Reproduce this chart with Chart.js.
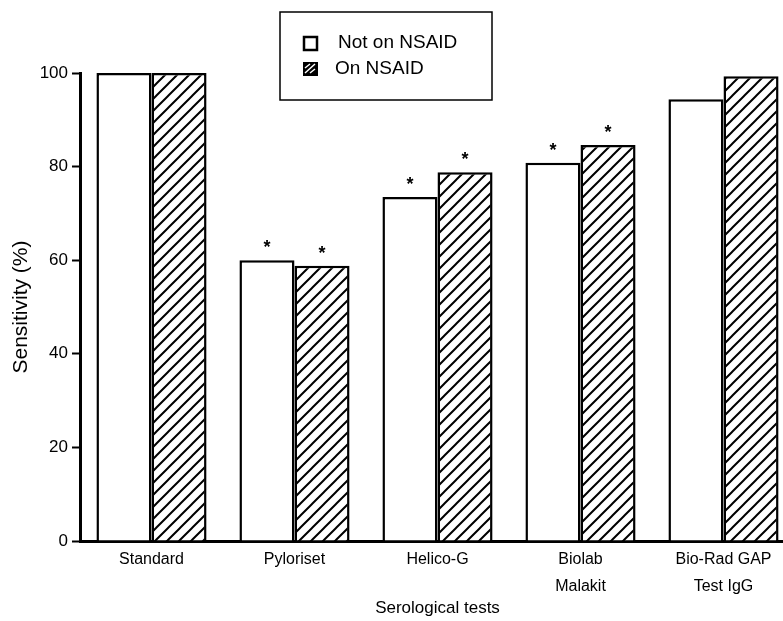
<html>
    <head>
        <title>Serological tests sensitivity</title>
        <script src="https://cdn.jsdelivr.net/npm/chart.js/dist/chart.umd.min.js"></script>
        <style>
            body { margin: 0; overflow: hidden; background: #fff; }
            #wrap { width: 795px; height: 621px; }
        </style>
    </head>
    <body>
        <div id="wrap"><canvas id="myChart" width="795" height="621"></canvas></div>
        <script>
            var tests = ["Standard", "Pyloriset", "Helico-G", ["Biolab", "Malakit"], ["Bio-Rad GAP", "Test IgG"]];
            var notOnNsaid = [100, 60, 73.5, 80.8, 94.4];
            var onNsaid = [100, 58.8, 78.8, 84.6, 99.3];
            // significance markers (*) per bar
            var starNot = [false, true, true, true, false];
            var starOn = [false, true, true, true, false];
            var yTicks = [0, 20, 40, 60, 80, 100];
            var font = "'Liberation Sans', Arial, sans-serif";

            function hatch(size, bg, fg, lw) {
                var c = document.createElement('canvas');
                c.width = size; c.height = size;
                var g = c.getContext('2d');
                g.fillStyle = bg;
                g.fillRect(0, 0, size, size);
                g.strokeStyle = fg;
                g.lineWidth = lw;
                g.beginPath();
                g.moveTo(-size, size); g.lineTo(size, -size);
                g.moveTo(0, size); g.lineTo(size, 0);
                g.moveTo(0, 2 * size); g.lineTo(2 * size, 0);
                g.stroke();
                return g.createPattern(c, 'repeat');
            }

            var ctx = document.getElementById('myChart').getContext('2d');
            var hatchFill = hatch(12, '#fff', '#000', 2);

            var extras = {
                id: 'extras',
                afterDatasetsDraw(chart) {
                    var c = chart.ctx;
                    c.save();
                    c.fillStyle = '#000';
                    c.font = "bold 18px " + font;
                    c.textAlign = 'center';
                    c.textBaseline = 'middle';
                    [starNot, starOn].forEach((flags, di) => {
                        chart.getDatasetMeta(di).data.forEach((bar, i) => {
                            if (flags[i]) c.fillText('*', bar.x, bar.y - 12);
                        });
                    });
                    c.restore();
                },
                afterDraw(chart) {
                    var c = chart.ctx;
                    c.save();
                    c.strokeStyle = '#000';
                    c.lineWidth = 1.5;
                    c.fillStyle = '#fff';
                    c.fillRect(280, 12, 212, 88);
                    c.strokeRect(280, 12, 212, 88);
                    // legend keys
                    c.lineWidth = 2.5;
                    c.strokeRect(304, 37, 13, 13);
                    c.fillStyle = '#000';
                    c.fillRect(303, 62, 15, 14);
                    c.strokeStyle = '#fff';
                    c.lineWidth = 1.5;
                    c.beginPath();
                    c.moveTo(305, 73); c.lineTo(315, 64);
                    c.moveTo(305, 68); c.lineTo(310, 64);
                    c.moveTo(310, 73); c.lineTo(315, 69);
                    c.stroke();
                    c.fillStyle = '#000';
                    c.font = "19px " + font;
                    c.textBaseline = 'middle';
                    c.fillText('Not on NSAID', 338, 43);
                    c.fillText('On NSAID', 335, 69);
                    c.restore();
                }
            };

            const myChart = new Chart(ctx, {
                type: 'bar',
                data: {
                    labels: tests,
                    datasets: [
                        {
                            label: 'Not on NSAID',
                            data: notOnNsaid,
                            backgroundColor: '#fff',
                            borderColor: '#000',
                            borderWidth: 2.5,
                        },
                        {
                            label: 'On NSAID',
                            data: onNsaid,
                            backgroundColor: hatchFill,
                            borderColor: '#000',
                            borderWidth: 2.5,
                        }
                    ]
                },
                options: {
                    responsive: false,
                    animation: false,
                    devicePixelRatio: 1,
                    layout: { padding: { top: 73, right: 0, left: 0, bottom: 0 } },
                    plugins: {
                        legend: { display: false },
                        tooltip: { enabled: false }
                    },
                    datasets: {
                        bar: { categoryPercentage: 0.77, barPercentage: 1.0 }
                    },
                    scales: {
                        x: {
                            grid: { display: false },
                            border: { color: '#000', width: 3 },
                            ticks: {
                                color: '#000',
                                font: { family: font, size: 16, lineHeight: 1.7 },
                                padding: -3,
                                maxRotation: 0
                            },
                            title: {
                                display: true,
                                text: 'Serological tests',
                                color: '#000',
                                font: { family: font, size: 17 },
                                padding: { top: 2, bottom: 2 }
                            },
                            afterFit(scale) { scale.height = 80; }
                        },
                        y: {
                            min: 0,
                            max: 100,
                            afterBuildTicks(scale) { scale.ticks = yTicks.map(v => ({ value: v })); },
                            grid: {
                                drawOnChartArea: false,
                                drawTicks: true,
                                tickLength: 8,
                                tickColor: '#000',
                                tickWidth: 2
                            },
                            border: { color: '#000', width: 3 },
                            ticks: {
                                color: '#000',
                                font: { family: font, size: 17 },
                                padding: 4
                            },
                            title: {
                                display: true,
                                text: 'Sensitivity (%)',
                                color: '#000',
                                font: { family: font, size: 21 },
                                padding: { top: 9, bottom: 0 }
                            },
                            afterFit(scale) { scale.width = 80; }
                        }
                    }
                },
                plugins: [extras]
            });
        </script>
    </body>
</html>
